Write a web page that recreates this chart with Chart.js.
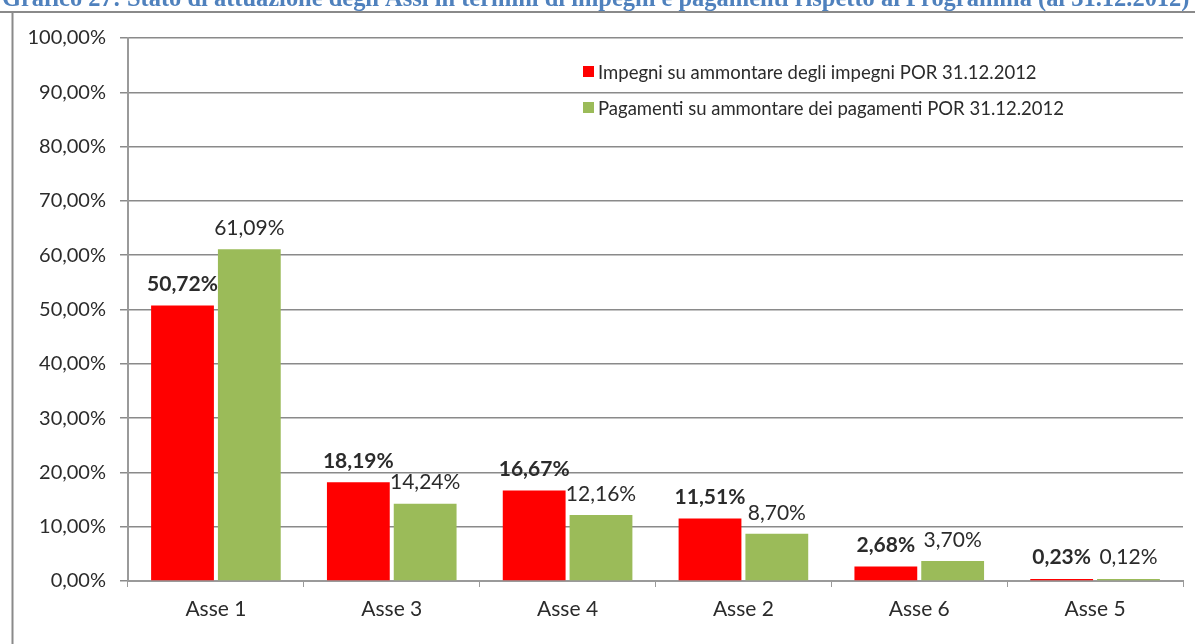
<!DOCTYPE html>
<html>
<head>
<meta charset="utf-8">
<script src="https://cdn.jsdelivr.net/npm/chart.js@4.4.1/dist/chart.umd.min.js"></script>
<style>
  html, body { margin: 0; padding: 0; background: #fff; }
  #wrap { width: 1195px; height: 644px; position: relative; }
</style>
</head>
<body>
<div id="wrap"><canvas id="myChart" width="1195" height="644"></canvas></div>
<script>
// dati
var categorie = ['Asse 1', 'Asse 3', 'Asse 4', 'Asse 2', 'Asse 6', 'Asse 5'];
var impegni = [50.72, 18.19, 16.67, 11.51, 2.68, 0.23];
var pagamenti = [61.09, 14.24, 12.16, 8.70, 3.70, 0.12];
var yTicks = [0, 10, 20, 30, 40, 50, 60, 70, 80, 90, 100];
var legendaImpegni = 'Impegni su ammontare degli impegni POR 31.12.2012';
var legendaPagamenti = 'Pagamenti su ammontare dei pagamenti POR 31.12.2012';
var titolo = 'Grafico 27: Stato di attuazione degli Assi in termini di impegni e pagamenti rispetto al Programma (al 31.12.2012)';

var FONT = 'Lato, "Open Sans", sans-serif';

function formatPerc(v) {
    return v.toFixed(2).replace('.', ',') + '%';
}

// cornice, titolo tagliato in alto, legenda, etichette sopra le barre
var decorazioni = {
    id: 'decorazioni',
    beforeDraw: function (chart) {
        var ctx = chart.ctx;
        ctx.save();
        ctx.fillStyle = '#fff';
        ctx.fillRect(0, 0, chart.width, chart.height);
        // titolo
        ctx.fillStyle = '#4f81bd';
        var size = 22;
        ctx.font = 'bold ' + size + 'px "Liberation Serif", serif';
        var w = ctx.measureText(titolo).width;
        size = size * 1188 / w;
        ctx.font = 'bold ' + size + 'px "Liberation Serif", serif';
        ctx.textBaseline = 'alphabetic';
        ctx.textAlign = 'left';
        ctx.fillText(titolo, 2, 6);
        // cornice
        ctx.strokeStyle = '#8a8a8a';
        ctx.lineWidth = 2;
        ctx.beginPath();
        ctx.moveTo(0, 12);
        ctx.lineTo(chart.width, 12);
        ctx.moveTo(12.5, 12);
        ctx.lineTo(12.5, chart.height);
        ctx.stroke();
        ctx.restore();
    },
    afterDatasetsDraw: function (chart) {
        var ctx = chart.ctx;
        ctx.save();
        ctx.textAlign = 'center';
        ctx.textBaseline = 'middle';
        ctx.fillStyle = '#2b2b2b';
        chart.data.datasets.forEach(function (ds, i) {
            var meta = chart.getDatasetMeta(i);
            ctx.font = (i === 0 ? 'bold ' : '') + '21px ' + FONT;
            meta.data.forEach(function (bar, j) {
                var top = Math.min(bar.y, bar.base - 2);
                ctx.fillText(formatPerc(ds.data[j]), bar.x, top - 21);
            });
        });
        // legenda
        var voci = [
            { testo: legendaImpegni, colore: chart.data.datasets[0].backgroundColor, y: 72 },
            { testo: legendaPagamenti, colore: chart.data.datasets[1].backgroundColor, y: 108 }
        ];
        ctx.textAlign = 'left';
        ctx.font = '18.5px ' + FONT;
        voci.forEach(function (v) {
            ctx.fillStyle = v.colore;
            ctx.fillRect(583, v.y - 6, 11, 11);
            ctx.fillStyle = '#2b2b2b';
            ctx.fillText(v.testo, 598, v.y + 1);
        });
        ctx.restore();
    }
};

const data = {
    labels: categorie,
    datasets: [{
        label: legendaImpegni,
        data: impegni,
        backgroundColor: '#ff0000'
    }, {
        label: legendaPagamenti,
        data: pagamenti,
        backgroundColor: '#9bbb59'
    }]
};

const config = {
    type: 'bar',
    data,
    options: {
        responsive: false,
        animation: false,
        categoryPercentage: 0.76,
        barPercentage: 0.94,
        minBarLength: 2,
        layout: { padding: { top: 38, right: 12, bottom: 0, left: 0 } },
        plugins: {
            legend: { display: false },
            tooltip: { enabled: false }
        },
        scales: {
            x: {
                grid: {
                    display: true,
                    drawOnChartArea: false,
                    offset: true,
                    color: '#9a9a9a',
                    tickLength: 6
                },
                border: { color: '#9a9a9a', width: 2 },
                ticks: {
                    color: '#2b2b2b',
                    font: { family: FONT, size: 21 },
                    padding: 10
                },
                afterFit: function (axis) { axis.height = 63; }
            },
            y: {
                min: 0,
                max: 100,
                afterBuildTicks: function (axis) {
                    axis.ticks = yTicks.map(function (v) { return { value: v }; });
                },
                grid: {
                    color: '#8a8a8a',
                    lineWidth: 1.5,
                    tickLength: 8
                },
                border: { color: '#9a9a9a', width: 2 },
                ticks: {
                    color: '#2b2b2b',
                    font: { family: FONT, size: 20 },
                    padding: 14,
                    callback: function (v) { return formatPerc(v); }
                },
                afterFit: function (axis) { axis.width = 128; }
            }
        }
    },
    plugins: [decorazioni]
};

var myChart = new Chart(document.getElementById('myChart'), config);
</script>
</body>
</html>
